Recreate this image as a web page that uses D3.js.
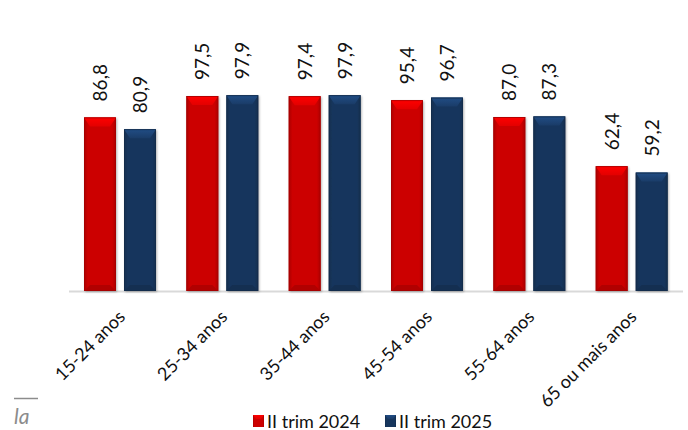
<!DOCTYPE html>
<html><head><meta charset="utf-8">
<script src="https://cdn.jsdelivr.net/npm/d3@7"></script>
<style>body{margin:0;background:#fff}svg{display:block}</style>
</head><body>
<svg id="c" width="688" height="430"></svg>
<script>
const categories = ["15-24 anos","25-34 anos","35-44 anos","45-54 anos","55-64 anos","65 ou mais anos"];
const seriesNames = ["II trim 2024","II trim 2025"];
const values2024 = [86.8, 97.5, 97.4, 95.4, 87.0, 62.4];
const values2025 = [80.9, 97.9, 97.9, 96.7, 87.3, 59.2];
const seriesColors = ["#cc0000", "#17365d"];

const svg = d3.select("#c");
const font = "Lato, 'Open Sans', sans-serif";
const baseY = 291;
const x = d3.scaleBand().domain(categories).range([69, 683]).paddingInner(0).paddingOuter(0);
const xs = d3.scaleBand().domain(seriesNames).range([0, 72]).paddingInner(0.2);
const y = d3.scaleLinear().domain([0, 100]).range([baseY, 91]);
const fmt = v => d3.format(".1f")(v).replace(".", ",");

const defs = svg.append("defs");
function grads(id, c) {
  const g = defs.append("linearGradient").attr("id", id).attr("x1",0).attr("x2",1).attr("y1",0).attr("y2",0);
  const cc = d3.color(c);
  g.append("stop").attr("offset","0").attr("stop-color", cc.darker(0.5));
  g.append("stop").attr("offset","0.12").attr("stop-color", c);
  g.append("stop").attr("offset","0.88").attr("stop-color", c);
  g.append("stop").attr("offset","1").attr("stop-color", cc.darker(0.5));
  const t = defs.append("linearGradient").attr("id", id+"t").attr("x1",0).attr("x2",0).attr("y1",0).attr("y2",1);
  t.append("stop").attr("offset","0").attr("stop-color", cc.brighter(1.0));
  t.append("stop").attr("offset","1").attr("stop-color", cc.brighter(0.3));
}
grads("g0", seriesColors[0]);
grads("g1", seriesColors[1]);
const f = defs.append("filter").attr("id","sh").attr("x","-20%").attr("y","-5%").attr("width","140%").attr("height","115%");
f.append("feDropShadow").attr("dx",1).attr("dy",1).attr("stdDeviation",1.2).attr("flood-color","#000").attr("flood-opacity",0.3);

svg.append("line").attr("x1", 69).attr("x2", 683).attr("y1", baseY+0.5).attr("y2", baseY+0.5)
  .attr("stroke", "#d9d9d9").attr("stroke-width", 2);

const data = [];
categories.forEach((c, i) => {
  data.push({c, s: 0, v: values2024[i]});
  data.push({c, s: 1, v: values2025[i]});
});

const bars = svg.append("g").selectAll("g").data(data).join("g");
bars.each(function(d) {
  const g = d3.select(this);
  const bx = x(d.c) + 15 + xs(seriesNames[d.s]);
  const bw = xs.bandwidth();
  const top = y(d.v);
  const h = baseY - top;
  const col = seriesColors[d.s];
  const b = 6;
  g.append("rect").attr("x", bx).attr("y", top).attr("width", bw).attr("height", h)
    .attr("fill", `url(#g${d.s})`).attr("filter","url(#sh)");
  g.append("polygon").attr("points", [[bx,top],[bx+bw,top],[bx+bw-b,top+b+3],[bx+b,top+b+3]].map(p=>p.join(",")).join(" "))
    .attr("fill", `url(#g${d.s}t)`);
  g.append("polygon").attr("points", [[bx,baseY],[bx+bw,baseY],[bx+bw-b,baseY-b],[bx+b,baseY-b]].map(p=>p.join(",")).join(" "))
    .attr("fill", d3.color(col).darker(0.4));
  g.append("rect").attr("x", bx+0.5).attr("y", top+0.5).attr("width", bw-1).attr("height", h-1)
    .attr("fill","none").attr("stroke", d3.color(col).darker(0.6)).attr("stroke-width",0.8);
  const cx = bx + bw/2;
  g.append("text").attr("transform", `translate(${cx+7},${top-16}) rotate(-90)`)
    .attr("text-anchor","start").attr("font-family", font).attr("font-size", 19).attr("fill","#111")
    .text(fmt(d.v));
});

svg.append("g").selectAll("text").data(categories).join("text")
  .attr("transform", d => `translate(${x(d)+x.bandwidth()/2+6},${baseY+27}) rotate(-45)`)
  .attr("text-anchor","end").attr("font-family", font).attr("font-size", 18).attr("fill","#111")
  .text(d => d);

const legX = [253, 385];
const lg = svg.append("g").selectAll("g").data(seriesNames).join("g")
  .attr("transform", (d,i) => `translate(${legX[i]},415)`);
lg.append("rect").attr("width", 11).attr("height", 12).attr("fill", (d,i)=>`url(#g${i})`);
lg.append("polygon").attr("points","0,0 11,0 8,4 3,4").attr("fill",(d,i)=>`url(#g${i}t)`);
lg.append("text").attr("x", 14).attr("y", 12.5).attr("font-family", font).attr("font-size", 18).attr("fill","#111")
  .text(d => d);

svg.append("line").attr("x1", 14).attr("x2", 38).attr("y1", 398.5).attr("y2", 398.5).attr("stroke","#8c8c8c").attr("stroke-width",1.5);
svg.append("text").attr("x", 14).attr("y", 424).attr("font-family", font).attr("font-style","italic")
  .attr("font-size", 21).attr("fill","#8c8c8c").text("la");
</script>
</body></html>
